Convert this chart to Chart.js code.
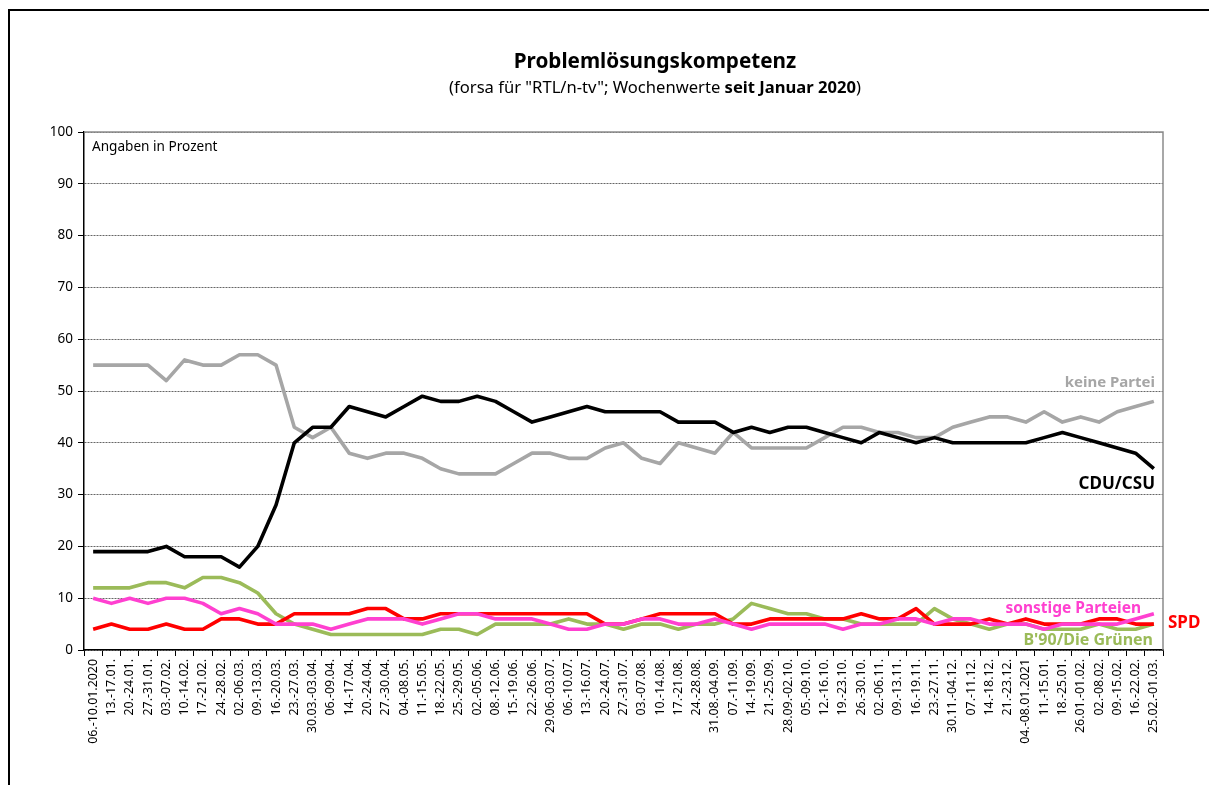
<!DOCTYPE html>
<html>
<head>
<meta charset="utf-8">
<script src="https://cdn.jsdelivr.net/npm/chart.js@4"></script>
<style>
  body { margin: 0; background: #fff; }
  #frame { position: absolute; left: 8px; top: 9px; width: 1300px; height: 900px;
           border-left: 2px solid #000; border-top: 2px solid #000; }
  #wrap { position: absolute; left: 0; top: 0; width: 1209px; height: 785px; }
</style>
</head>
<body>
<div id="frame"></div>
<div id="wrap"><canvas id="lineDiagramm" width="1209" height="785"></canvas></div>
<script>
// Wochen (Kategorien)
var weeks = [
  '06.-10.01.2020', '13.-17.01.', '20.-24.01.', '27.-31.01.', '03.-07.02.', '10.-14.02.', '17.-21.02.', '24.-28.02.',
  '02.-06.03.', '09.-13.03.', '16.-20.03.', '23.-27.03.', '30.03.-03.04.', '06.-09.04.', '14.-17.04.', '20.-24.04.',
  '27.-30.04.', '04.-08.05.', '11.-15.05.', '18.-22.05.', '25.-29.05.', '02.-05.06.', '08.-12.06.', '15.-19.06.',
  '22.-26.06.', '29.06.-03.07.', '06.-10.07.', '13.-16.07.', '20.-24.07.', '27.-31.07.', '03.-07.08.', '10.-14.08.',
  '17.-21.08.', '24.-28.08.', '31.08.-04.09.', '07.-11.09.', '14.-19.09.', '21.-25.09.', '28.09.-02.10.', '05.-09.10.',
  '12.-16.10.', '19.-23.10.', '26.-30.10.', '02.-06.11.', '09.-13.11.', '16.-19.11.', '23.-27.11.', '30.11.-04.12.',
  '07.-11.12.', '14.-18.12.', '21.-23.12.', '04.-08.01.2021', '11.-15.01.', '18.-25.01.', '26.01.-01.02.', '02.-08.02.',
  '09.-15.02.', '16.-22.02.', '25.02.-01.03.'
];

var keinePartei = [55,55,55,55,52,56,55,55,57,57,55,43,41,43,38,37,38,38,37,35,34,34,34,36,38,38,37,37,39,40,
                   37,36,40,39,38,42,39,39,39,39,41,43,43,42,42,41,41,43,44,45,45,44,46,44,45,44,46,47,48];
var cduCsu = [19,19,19,19,20,18,18,18,16,20,28,40,43,43,47,46,45,47,49,48,48,49,48,46,44,45,46,47,46,46,
              46,46,44,44,44,42,43,42,43,43,42,41,40,42,41,40,41,40,40,40,40,40,41,42,41,40,39,38,35];
var spd = [4,5,4,4,5,4,4,6,6,5,5,7,7,7,7,8,8,6,6,7,7,7,7,7,7,7,7,7,5,5,
           6,7,7,7,7,5,5,6,6,6,6,6,7,6,6,8,5,5,5,6,5,6,5,5,5,6,6,5,5];
var gruene = [12,12,12,13,13,12,14,14,13,11,7,5,4,3,3,3,3,3,3,4,4,3,5,5,5,5,6,5,5,4,
              5,5,4,5,5,6,9,8,7,7,6,6,5,5,5,5,8,6,5,4,5,5,4,4,4,5,4,4,5];
var sonstige = [10,9,10,9,10,10,9,7,8,7,5,5,5,4,5,6,6,6,5,6,7,7,6,6,6,5,4,4,5,5,
                6,6,5,5,6,5,4,5,5,5,5,4,5,5,6,6,5,6,6,5,5,5,4,5,5,5,5,6,7];

var yTicks = [0,10,20,30,40,50,60,70,80,90,100];

var FONT = "'Noto Sans', 'Open Sans', sans-serif";

// Titel, Hinweise und Serienbeschriftungen direkt auf das Canvas
var textPlugin = {
  id: 'texte',
  afterDraw: function(chart) {
    var ctx = chart.ctx;
    var area = chart.chartArea;
    ctx.save();
    // Rahmen oben/rechts
    ctx.strokeStyle = '#8c8c8c';
    ctx.lineWidth = 1.5;
    ctx.beginPath();
    ctx.moveTo(area.left, area.top);
    ctx.lineTo(area.right, area.top);
    ctx.lineTo(area.right, area.bottom);
    ctx.stroke();

    ctx.fillStyle = '#000';
    ctx.textBaseline = 'middle';
    ctx.textAlign = 'center';
    ctx.font = "bold 20.7px " + FONT;
    ctx.fillText('Problemlösungskompetenz', 655, 62);

    // Untertitel mit fettem Teil
    var p1 = '(forsa für "RTL/n-tv"; Wochenwerte ';
    var p2 = 'seit Januar 2020';
    var p3 = ')';
    ctx.font = "16.6px " + FONT;
    var w1 = ctx.measureText(p1).width, w3 = ctx.measureText(p3).width;
    ctx.font = "bold 16.6px " + FONT;
    var w2 = ctx.measureText(p2).width;
    var x0 = 655 - (w1 + w2 + w3) / 2;
    ctx.textAlign = 'left';
    ctx.font = "16.6px " + FONT;
    ctx.fillText(p1, x0, 88);
    ctx.font = "bold 16.6px " + FONT;
    ctx.fillText(p2, x0 + w1, 88);
    ctx.font = "16.6px " + FONT;
    ctx.fillText(p3, x0 + w1 + w2, 88);

    ctx.font = "13.6px " + FONT;
    ctx.fillText('Angaben in Prozent', area.left + 8, 147);

    var y = chart.scales.y;
    ctx.textAlign = 'right';
    ctx.font = "bold 15px " + FONT;
    ctx.fillStyle = '#a6a6a6';
    ctx.fillText('keine Partei', area.right - 8, y.getPixelForValue(51.5));
    ctx.fillStyle = '#000';
    ctx.font = "bold 17px " + FONT;
    ctx.fillText('CDU/CSU', area.right - 8, y.getPixelForValue(32));
    ctx.fillStyle = '#ff40d0';
    ctx.font = "bold 15.5px " + FONT;
    ctx.fillText('sonstige Parteien', area.right - 22, y.getPixelForValue(7.9));
    ctx.fillStyle = '#9bbb59';
    ctx.font = "bold 16px " + FONT;
    ctx.fillText("B'90/Die Grünen", area.right - 10, y.getPixelForValue(1.8));
    ctx.fillStyle = '#ff0000';
    ctx.textAlign = 'left';
    ctx.font = "bold 17px " + FONT;
    ctx.fillText('SPD', area.right + 5, y.getPixelForValue(5.2));
    ctx.restore();
  }
};

function serie(label, data, color) {
  return {
    label: label,
    data: data,
    borderColor: color,
    backgroundColor: color,
    borderWidth: 3.6,
    pointRadius: 0,
    tension: 0,
    borderJoinStyle: 'round'
  };
}

var ctx1 = document.getElementById('lineDiagramm').getContext('2d');
var myLineChart1 = new Chart(ctx1, {
  type: 'line',
  data: {
    labels: weeks,
    // erste Reihe liegt oben
    datasets: [
      serie('sonstige Parteien', sonstige, '#ff40d0'),
      serie('SPD', spd, '#ff0000'),
      serie("B'90/Die Grünen", gruene, '#9bbb59'),
      serie('CDU/CSU', cduCsu, '#000000'),
      serie('keine Partei', keinePartei, '#a6a6a6')
    ]
  },
  options: {
    responsive: false,
    animation: false,
    layout: { padding: { left: 0, right: 46, top: 132, bottom: 0 } },
    plugins: { legend: { display: false }, tooltip: { enabled: false } },
    scales: {
      x: {
        type: 'category',
        offset: true,
        grid: { offset: true, drawOnChartArea: false, drawTicks: true, tickLength: 6, tickColor: '#000', tickWidth: 1 },
        border: { display: true, color: '#000', width: 1.5 },
        ticks: {
          autoSkip: false, maxRotation: 90, minRotation: 90, padding: 3,
          color: '#000', font: { family: FONT, size: 12.4 }
        },
        afterFit: function(scale) { scale.height = 135; }
      },
      y: {
        min: 0, max: 100,
        afterBuildTicks: function(scale) { scale.ticks = yTicks.map(function(v) { return { value: v }; }); },
        grid: { color: '#666', lineWidth: 1, drawTicks: true, tickLength: 6, tickColor: '#000' },
        border: { display: true, color: '#000', width: 1.5, dash: [2, 1] },
        ticks: { color: '#000', padding: 5, font: { family: FONT, size: 13.5 } },
        afterFit: function(scale) { scale.width = 84; }
      }
    }
  },
  plugins: [textPlugin]
});
</script>
</body>
</html>
